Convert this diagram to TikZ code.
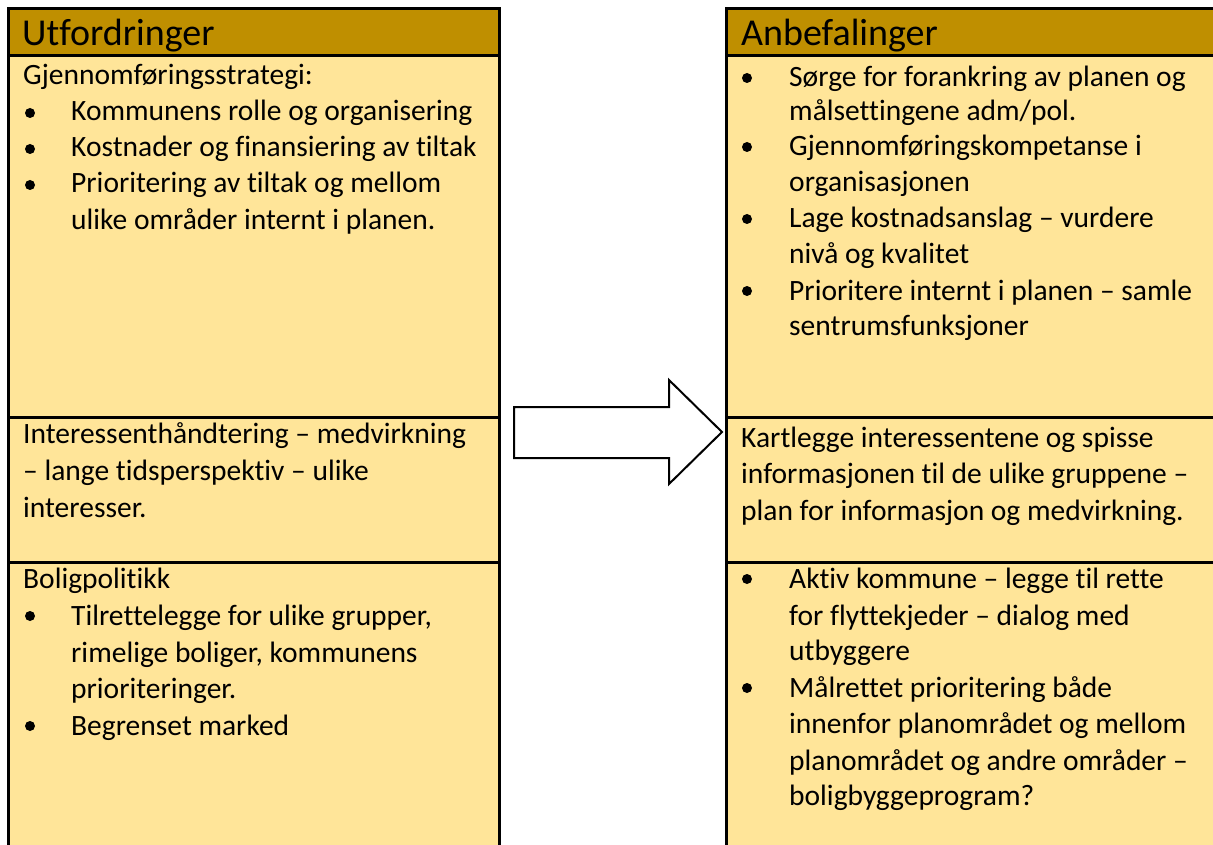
\documentclass[tikz,border=0pt]{standalone}
\usepackage{fontspec}
\setmainfont{Carlito}[Ligatures={NoCommon}]
\definecolor{hdr}{HTML}{BF8F00}
\definecolor{cell}{HTML}{FFE599}
\begin{document}
\begin{tikzpicture}[x=1pt,y=-1pt,
  cellbox/.style={fill=cell,draw=black,line width=3pt},
  hdrbox/.style={fill=hdr,draw=black,line width=3pt},
  txt/.style={anchor=base west,inner sep=0pt,font=\fontsize{29.5}{36}\selectfont},
  hdrtxt/.style={anchor=base west,inner sep=0pt,font=\fontsize{38}{44}\selectfont},
  dot/.style={circle,fill=black,inner sep=0pt,minimum size=10pt},
  bigarrow/.style={draw=black,fill=white,line width=2pt,line join=miter}]
\useasboundingbox (0,0) rectangle (1213,845);
\clip (0,0) rectangle (1213,845);

% left column: challenges
\draw[cellbox] (8,56) rectangle (499,417);
\draw[cellbox] (8,417) rectangle (499,562);
\draw[cellbox] (8,562) rectangle (499,870);
\draw[hdrbox] (8,9) rectangle (499,56);

% right column: recommendations
\draw[cellbox] (726,56) rectangle (1240,417);
\draw[cellbox] (726,417) rectangle (1240,562);
\draw[cellbox] (726,562) rectangle (1240,870);
\draw[hdrbox] (726,9) rectangle (1240,56);

% block arrow between the columns
\draw[bigarrow] (514,407) -- (669,407) -- (669,380) -- (722,432)
  -- (669,484) -- (669,458) -- (514,458) -- cycle;

% headers
\node[hdrtxt] (hL) at (22,46) {Utfordringer};
\node[hdrtxt] (hR) at (741,46) {Anbefalinger};

% left, first row
\node[txt] (l1a) at (23,85) {Gjennomføringsstrategi:};
\node[dot] (lb1) at (30,113) {};
\node[txt] (l1b) at (71,121) {Kommunens rolle og organisering};
\node[dot] (lb2) at (30,149) {};
\node[txt] (l1c) at (71,157) {Kostnader og finansiering av tiltak};
\node[dot] (lb3) at (30,185) {};
\node[txt] (l1d) at (71,193) {Prioritering av tiltak og mellom};
\node[txt] (l1e) at (71,230) {ulike områder internt i planen.};

% left, second row
\node[txt] (l2a) at (23,443) {Interessenthåndtering – medvirkning};
\node[txt] (l2b) at (23,480) {– lange tidsperspektiv – ulike};
\node[txt] (l2c) at (23,517) {interesser.};

% left, third row
\node[txt] (l3a) at (23,588) {Boligpolitikk};
\node[dot] (lb4) at (30,616) {};
\node[txt] (l3b) at (71,625) {Tilrettelegge for ulike grupper,};
\node[txt] (l3c) at (71,662) {rimelige boliger, kommunens};
\node[txt] (l3d) at (71,698) {prioriteringer.};
\node[dot] (lb5) at (30,726) {};
\node[txt] (l3e) at (71,735) {Begrenset marked};

% right, first row
\node[dot] (rb1) at (747,78) {};
\node[txt] (r1a) at (789,87) {Sørge for forankring av planen og};
\node[txt] (r1b) at (789,121) {målsettingene adm/pol.};
\node[dot] (rb2) at (747,147) {};
\node[txt] (r1c) at (789,156) {Gjennomføringskompetanse i};
\node[txt] (r1d) at (789,192) {organisasjonen};
\node[dot] (rb3) at (747,219) {};
\node[txt] (r1e) at (789,228) {Lage kostnadsanslag – vurdere};
\node[txt] (r1f) at (789,263) {nivå og kvalitet};
\node[dot] (rb4) at (747,291) {};
\node[txt] (r1g) at (789,300) {Prioritere internt i planen – samle};
\node[txt] (r1h) at (789,335) {sentrumsfunksjoner};

% right, second row
\node[txt] (r2a) at (741,447) {Kartlegge interessentene og spisse};
\node[txt] (r2b) at (741,483) {informasjonen til de ulike gruppene –};
\node[txt] (r2c) at (741,520) {plan for informasjon og medvirkning.};

% right, third row
\node[dot] (rb5) at (747,579) {};
\node[txt] (r3a) at (789,588) {Aktiv kommune – legge til rette};
\node[txt] (r3b) at (789,625) {for flyttekjeder – dialog med};
\node[txt] (r3c) at (789,660) {utbyggere};
\node[dot] (rb6) at (747,688) {};
\node[txt] (r3d) at (789,697) {Målrettet prioritering både};
\node[txt] (r3e) at (789,733) {innenfor planområdet og mellom};
\node[txt] (r3f) at (789,770) {planområdet og andre områder –};
\node[txt] (r3g) at (789,805) {boligbyggeprogram?};
\end{tikzpicture}
\end{document}
